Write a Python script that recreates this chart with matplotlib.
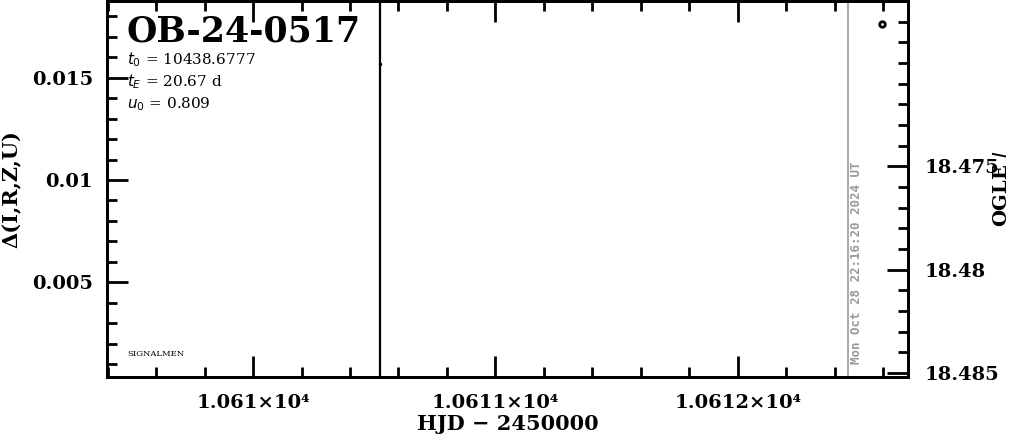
import matplotlib
matplotlib.use("Agg")
import matplotlib.pyplot as plt
from matplotlib.ticker import MultipleLocator, FixedLocator, FixedFormatter

plt.rcParams['font.family'] = ['DejaVu Serif']

# data
ogle_hjd = [10612.595]
ogle_mag = [18.4681]
resid_hjd = [10610.525]
resid_val = [0.01568]
last_obs = 10610.525
now_hjd = 10612.455
now_text = "Mon Oct 28 22:16:20 2024 UT"

event = "OB-24-0517"
params = [r"$t_0$ = 10438.6777", r"$t_E$ = 20.67 d", r"$u_0$ = 0.809"]

xticks = [10610, 10611, 10612]
xticklabels = ["1.061×10⁴", "1.0611×10⁴", "1.0612×10⁴"]
lticks = [0.005, 0.01, 0.015]
lticklabels = ["0.005", "0.01", "0.015"]
rticks = [18.475, 18.48, 18.485]
rticklabels = ["18.475", "18.48", "18.485"]

fig = plt.figure(figsize=(10.11, 4.34), dpi=100)
ax = fig.add_axes([0.1058, 0.1313, 0.898 - 0.1058, 0.998 - 0.1313])
ax2 = ax.twinx()

ax.set_xlim(10609.397, 10612.702)
ax.set_ylim(0.00037, 0.01876)
ax2.set_ylim(18.4852, 18.467)

# lines and points
ax.axvline(last_obs, color='k', lw=1.6)
ax.axvline(now_hjd, color='#999999', lw=1.2)
ax.plot(resid_hjd, resid_val, 'k.', ms=3)
ax2.plot(ogle_hjd, ogle_mag, 'o', mfc='none', mec='k', mew=2, ms=4)

# ticks
ax.xaxis.set_major_locator(FixedLocator(xticks))
ax.xaxis.set_major_formatter(FixedFormatter(xticklabels))
ax.xaxis.set_minor_locator(MultipleLocator(0.2))
ax.yaxis.set_major_locator(FixedLocator(lticks))
ax.yaxis.set_major_formatter(FixedFormatter(lticklabels))
ax.yaxis.set_minor_locator(MultipleLocator(0.001))
ax2.yaxis.set_major_locator(FixedLocator(rticks))
ax2.yaxis.set_major_formatter(FixedFormatter(rticklabels))
ax2.yaxis.set_minor_locator(MultipleLocator(0.001))

ax.tick_params(axis='x', which='both', direction='in', top=True, labelsize=14, pad=12, width=2)
ax.tick_params(axis='y', which='both', direction='in', right=False, labelsize=14, pad=10, width=2)
ax.tick_params(which='major', length=15)
ax.tick_params(which='minor', length=7)
ax2.tick_params(axis='y', which='both', direction='in', labelsize=14, pad=12, width=2)
ax2.tick_params(which='major', length=15)
ax2.tick_params(which='minor', length=7)

for lab in ax.get_xticklabels() + ax.get_yticklabels() + ax2.get_yticklabels():
    lab.set_fontweight('bold')

for a in (ax, ax2):
    for s in a.spines.values():
        s.set_linewidth(2)

ax.set_xlabel("HJD − 2450000", fontsize=15, fontweight='bold', labelpad=2)
ax.set_ylabel("Δ(I,R,Z,U)", fontsize=15, fontweight='bold')
ax.yaxis.set_label_coords(-0.1186, 0.5)
ax.yaxis.label.set_va('center')
ax2.set_ylabel("OGLE $I$", fontsize=14, fontweight='bold', rotation=90)
ax2.yaxis.set_label_coords(1.117, 0.5)
ax2.yaxis.label.set_va('center')
ax2.yaxis.label.set_ha('center')

# text
ax.text(0.025, 0.965, event, transform=ax.transAxes, fontsize=25, fontweight='bold', va='top', ha='left')
for i, p in enumerate(params):
    ax.text(0.025, 0.845 - i * 0.06, p, transform=ax.transAxes, fontsize=11, va='center', ha='left')
ax.text(0.025, 0.06, "SIGNALMEN", transform=ax.transAxes, fontsize=6, va='center', ha='left')
ax.text(now_hjd + 0.035, 0.035, now_text, transform=ax.get_xaxis_transform(), rotation=90,
        fontsize=9, family='DejaVu Sans Mono', fontweight='bold', color='#999999',
        va='bottom', ha='center')

fig.savefig("out.png", dpi=100)
